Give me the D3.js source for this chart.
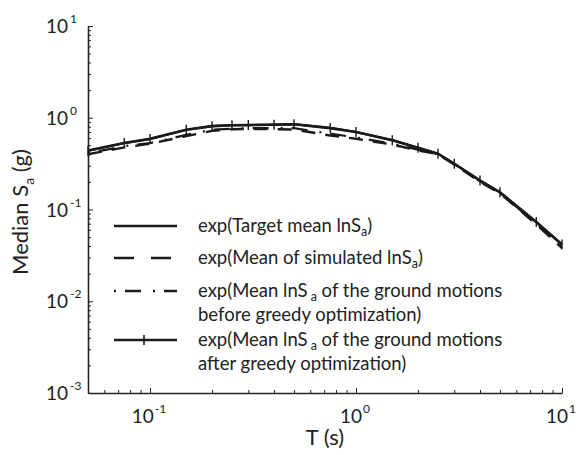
<!DOCTYPE html>
<html>
<head>
<meta charset="utf-8">
<script src="https://cdn.jsdelivr.net/npm/d3@7"></script>
<style>
  body { margin: 0; background: #fff; }
  svg { display: block; font-family: Lato, "Open Sans", sans-serif; }
</style>
</head>
<body>
<div id="chart"></div>
<script>
// --- data ---
const periods       = [0.05, 0.075, 0.1, 0.15, 0.2, 0.25, 0.3, 0.4, 0.5, 0.75, 1.0, 1.5, 2.0, 2.5, 3.0, 4.0, 5.0, 7.5, 10.0];
const targetMean    = [0.44, 0.53, 0.59, 0.74, 0.81, 0.83, 0.83, 0.84, 0.85, 0.77, 0.70, 0.57, 0.47, 0.405, 0.315, 0.207, 0.154, 0.073, 0.0415];
const simulatedMean = [0.40, 0.475, 0.52, 0.63, 0.72, 0.75, 0.755, 0.75, 0.745, 0.64, 0.59, 0.51, 0.44, 0.40, 0.31, 0.20, 0.15, 0.069, 0.038];
const beforeGreedy  = [0.41, 0.49, 0.53, 0.65, 0.74, 0.76, 0.77, 0.77, 0.77, 0.67, 0.61, 0.52, 0.45, 0.40, 0.312, 0.203, 0.152, 0.070, 0.039];
const afterGreedy   = [0.435, 0.53, 0.585, 0.74, 0.81, 0.83, 0.835, 0.84, 0.85, 0.775, 0.70, 0.57, 0.47, 0.405, 0.315, 0.207, 0.154, 0.073, 0.0415];

const xMajor = [0.1, 1, 10];
const yMajor = [0.001, 0.01, 0.1, 1, 10];
const xExp = ["-1", "0", "1"];
const yExp = ["-3", "-2", "-1", "0", "1"];

const W = 578, H = 455;
const svg = d3.select("#chart").append("svg").attr("width", W).attr("height", H);

const x = d3.scaleLog().domain([0.05, 10]).range([88, 562]);
const y = d3.scaleLog().domain([1e-3, 10]).range([393, 26]);

// minor tick values
const xMinor = [];
[0.01, 0.1, 1].forEach(d => { for (let k = 2; k <= 9; k++) { const v = d * k; if (v > 0.05 && v < 10) xMinor.push(v); } });
const yMinor = [];
[0.001, 0.01, 0.1, 1].forEach(d => { for (let k = 2; k <= 9; k++) yMinor.push(d * k); });

// axes (ticks point inward)
const gx = svg.append("g").attr("transform", `translate(0,${y.range()[0]})`);
gx.call(d3.axisBottom(x).tickValues(xMajor).tickSizeInner(-5).tickSizeOuter(0).tickFormat(""));
const gxm = svg.append("g").attr("transform", `translate(0,${y.range()[0]})`);
gxm.call(d3.axisBottom(x).tickValues(xMinor).tickSizeInner(-3).tickSizeOuter(0).tickFormat(""));
gxm.select(".domain").remove();

const gy = svg.append("g").attr("transform", `translate(${x.range()[0]},0)`);
gy.call(d3.axisLeft(y).tickValues(yMajor).tickSizeInner(-5).tickSizeOuter(0).tickFormat(""));
const gym = svg.append("g").attr("transform", `translate(${x.range()[0]},0)`);
gym.call(d3.axisLeft(y).tickValues(yMinor).tickSizeInner(-3).tickSizeOuter(0).tickFormat(""));
gym.select(".domain").remove();

svg.selectAll(".domain").attr("stroke", "#222").attr("stroke-width", 1.6);
svg.selectAll(".tick line").attr("stroke", "#222").attr("stroke-width", 1);

// tick labels: 10^n
xMajor.forEach((v, i) => {
  const t = svg.append("text").attr("x", x(v) - 1).attr("y", 423)
    .attr("text-anchor", "middle").attr("font-size", 19).attr("fill", "#222");
  t.append("tspan").text("10");
  t.append("tspan").attr("font-size", 12).attr("dy", -10).attr("dx", 1).text(xExp[i]);
});
yMajor.forEach((v, i) => {
  svg.append("text").attr("x", 68).attr("y", y(v) + 7)
    .attr("text-anchor", "end").attr("font-size", 19).attr("fill", "#222").text("10");
  svg.append("text").attr("x", 70).attr("y", y(v) - 3)
    .attr("font-size", 12).attr("fill", "#222").text(yExp[i]);
});

// axis titles
svg.append("text").attr("x", 325).attr("y", 445).attr("text-anchor", "middle")
  .attr("font-size", 22).attr("fill", "#222").text("T (s)");
const yt = svg.append("text").attr("transform", "translate(28,212) rotate(-90)")
  .attr("text-anchor", "middle").attr("font-size", 22).attr("fill", "#222");
yt.append("tspan").text("Median S");
yt.append("tspan").attr("font-size", 14).attr("dy", 6).text("a");
yt.append("tspan").attr("dy", -6).text(" (g)");

// series
const series = [
  { values: beforeGreedy,  dash: "2,9,16,12", width: 2.2, marker: false },
  { values: simulatedMean, dash: "14,10",     width: 2.4, marker: false },
  { values: targetMean,    dash: null,        width: 2.6, marker: false },
  { values: afterGreedy,   dash: null,        width: 2.2, marker: true }
];

const line = d3.line().x(d => x(d[0])).y(d => y(d[1]));

series.forEach(s => {
  const pts = periods.map((p, i) => [p, s.values[i]]);
  svg.append("path").datum(pts).attr("d", line)
    .attr("fill", "none").attr("stroke", "#1a1a1a")
    .attr("stroke-width", s.width)
    .attr("stroke-dasharray", s.dash);
  if (s.marker) {
    svg.append("g").selectAll("line").data(pts).join("line")
      .attr("x1", d => x(d[0])).attr("x2", d => x(d[0]))
      .attr("y1", d => y(d[1]) - 5).attr("y2", d => y(d[1]) + 5)
      .attr("stroke", "#1a1a1a").attr("stroke-width", 1.4);
  }
});

// legend
const legend = [
  { dash: null, marker: false, width: 2.6, y: 226, lines: [["exp(Target mean lnS", "a", ")"]] },
  { dash: "20,17", marker: false, width: 2.6, y: 258, lines: [["exp(Mean of simulated lnS", "a", ")"]] },
  { dash: "2,9,16,12", marker: false, width: 2.4, y: 291, lines: [["exp(Mean lnS", "a", " of the ground motions"], ["before greedy optimization)"]] },
  { dash: null, marker: true, width: 2.6, y: 340, lines: [["exp(Mean lnS", "a", " of the ground motions"], ["after greedy optimization)"]] }
];

legend.forEach(l => {
  svg.append("line").attr("x1", 114).attr("x2", 177).attr("y1", l.y).attr("y2", l.y)
    .attr("stroke", "#1a1a1a").attr("stroke-width", l.width).attr("stroke-dasharray", l.dash);
  if (l.marker) {
    svg.append("line").attr("x1", 144).attr("x2", 144).attr("y1", l.y - 5).attr("y2", l.y + 5)
      .attr("stroke", "#1a1a1a").attr("stroke-width", 1.6);
  }
  l.lines.forEach((parts, j) => {
    const t = svg.append("text").attr("x", 198).attr("y", l.y + 6 + j * 24)
      .attr("font-size", 18.5).attr("fill", "#222");
    t.append("tspan").text(parts[0]);
    if (parts.length > 1) {
      t.append("tspan").attr("font-size", 12.5).attr("dy", 4).attr("dx", parts[2].startsWith(" ") ? 3 : 0).text(parts[1]);
      t.append("tspan").attr("dy", -4).text(parts[2]);
    }
  });
});
</script>
</body>
</html>
